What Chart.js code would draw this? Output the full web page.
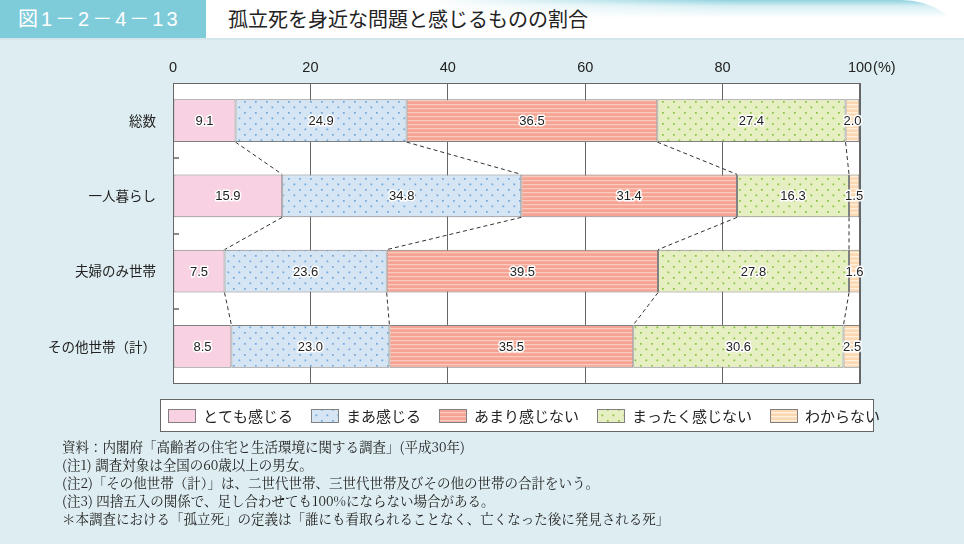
<!DOCTYPE html>
<html lang="ja">
<head>
<meta charset="utf-8">
<title>孤立死を身近な問題と感じるものの割合</title>
<script src="https://cdn.jsdelivr.net/npm/chart.js@4.4.1/dist/chart.umd.min.js"></script>
<style>
  body {
    margin: 0;
    width: 964px;
    height: 544px;
    overflow: hidden;
    position: relative;
    background: #deedf1;
    font-family: "Noto Sans CJK JP", sans-serif;
  }
  .head { position: absolute; left: 0; top: 0; width: 964px; height: 38px; background: #fff; }
  .head .num {
    position: absolute; left: 0; top: 0; width: 206px; height: 38px;
    background: #7ecbd9; color: #fff; box-sizing: border-box; padding-left: 18px;
    font: 20px/38px "Liberation Sans", "Noto Sans CJK JP", sans-serif; letter-spacing: 3px;
  }
  .head .band {
    position: absolute; left: 206px; top: 0; right: 6px; height: 38px;
    border-top-right-radius: 60px 40px;
    background:
      linear-gradient(to right, #fff 30%, rgba(255,255,255,0) 70%),
      linear-gradient(#8fd2de 0, #d6eff4 6px, #fff 18px);
  }
  .head .title { position: absolute; left: 228px; top: 0; font-size: 20px; line-height: 38px; color: #222; }
  .head-line { position: absolute; left: 0; top: 38px; width: 964px; height: 2px; background: #d2e6ec; }
  #chart { position: absolute; left: 0; top: 44px; }
  .notes {
    position: absolute; left: 62px; top: 437px;
    font-family: "Noto Serif CJK JP", "Noto Sans CJK JP", serif;
    font-size: 13.5px; line-height: 18px; color: #222; white-space: nowrap;
  }
</style>
</head>
<body>
<div class="head">
  <div class="band"></div>
  <div class="num">図1－2－4－13</div>
  <div class="title">孤立死を身近な問題と感じるものの割合</div>
</div>
<div class="head-line"></div>

<canvas id="chart" width="964" height="396"></canvas>

<div class="notes">
  <div>資料：内閣府「高齢者の住宅と生活環境に関する調査」(平成30年)</div>
  <div>(注1) 調査対象は全国の60歳以上の男女。</div>
  <div>(注2)「その他世帯（計）」は、二世代世帯、三世代世帯及びその他の世帯の合計をいう。</div>
  <div>(注3) 四捨五入の関係で、足し合わせても100%にならない場合がある。</div>
  <div>＊本調査における「孤立死」の定義は「誰にも看取られることなく、亡くなった後に発見される死」</div>
</div>

<script>
// data
const categories = ['総数', '一人暮らし', '夫婦のみ世帯', 'その他世帯（計）'];
const seriesNames = ['とても感じる', 'まあ感じる', 'あまり感じない', 'まったく感じない', 'わからない'];
const veryMuch = [9.1, 15.9, 7.5, 8.5];
const somewhat = [24.9, 34.8, 23.6, 23.0];
const notMuch = [36.5, 31.4, 39.5, 35.5];
const notAtAll = [27.4, 16.3, 27.8, 30.6];
const dontKnow = [2.0, 1.5, 1.6, 2.5];
const xTicks = [0, 20, 40, 60, 80, 100];
const xUnit = '(%)';

const numFont = '"Liberation Sans", "Noto Sans CJK JP", sans-serif';
const jpFont = '"Noto Sans CJK JP", sans-serif';

const canvas = document.getElementById('chart');
const ctx = canvas.getContext('2d');

// small tiles for the dotted / striped fills
function dots(bg, fg) {
  const c = document.createElement('canvas');
  c.width = 11; c.height = 11;
  const g = c.getContext('2d');
  g.fillStyle = bg; g.fillRect(0, 0, 11, 11);
  g.fillStyle = fg;
  g.fillRect(2, 2, 1.7, 1.7);
  g.fillRect(7.5, 7.5, 1.7, 1.7);
  return ctx.createPattern(c, 'repeat');
}
function stripes(bg, fg) {
  const c = document.createElement('canvas');
  c.width = 4; c.height = 4;
  const g = c.getContext('2d');
  g.fillStyle = bg; g.fillRect(0, 0, 4, 4);
  g.fillStyle = fg; g.fillRect(0, 0, 4, 1.3);
  return ctx.createPattern(c, 'repeat');
}

const fills = [
  '#f8d2e2',
  dots('#d5e5f4', '#6fa5da'),
  stripes('#f5a392', '#fbcabf'),
  dots('#e5efc2', '#86c23a'),
  stripes('#fcd8b2', '#fff0e0'),
];
const values = [veryMuch, somewhat, notMuch, notAtAll, dontKnow];

const datasets = seriesNames.map((name, k) => ({
  label: name,
  data: values[k],
  backgroundColor: fills[k],
  borderColor: '#808080',
  borderWidth: 1,
  borderSkipped: false,
  barPercentage: 0.571,
  categoryPercentage: 1.0,
}));

// white plot area, frame, inner ticks, dashed connectors, value labels, legend
const decorations = {
  id: 'decorations',
  beforeDraw(chart) {
    const { ctx, chartArea: a } = chart;
    ctx.save();
    ctx.fillStyle = '#fff';
    ctx.fillRect(a.left, a.top, a.width, a.height);
    ctx.restore();
  },
  afterDatasetsDraw(chart) {
    const { ctx, chartArea: a } = chart;
    const yScale = chart.scales.y;
    const metas = chart.data.datasets.map((d, k) => chart.getDatasetMeta(k));
    ctx.save();

    // frame
    ctx.strokeStyle = '#666';
    ctx.lineWidth = 1;
    ctx.strokeRect(a.left + 0.5, a.top + 0.5, a.width - 1, a.height - 1);

    // short ticks between categories, inside the plot
    ctx.lineWidth = 1.5;
    for (let i = 1; i < categories.length; i++) {
      const y = Math.round((yScale.getPixelForValue(i - 1) + yScale.getPixelForValue(i)) / 2);
      ctx.beginPath();
      ctx.moveTo(a.left, y);
      ctx.lineTo(a.left + 6, y);
      ctx.stroke();
    }

    // dashed lines joining the segment boundaries
    ctx.lineWidth = 1;
    ctx.strokeStyle = '#333';
    ctx.setLineDash([4, 3]);
    for (let i = 0; i < categories.length - 1; i++) {
      for (let k = 0; k < metas.length - 1; k++) {
        const top = metas[k].data[i];
        const bottom = metas[k].data[i + 1];
        ctx.beginPath();
        ctx.moveTo(top.x, top.y + top.height / 2);
        ctx.lineTo(bottom.x, bottom.y - bottom.height / 2);
        ctx.stroke();
      }
    }
    ctx.setLineDash([]);

    // value labels with a white halo
    ctx.font = '13px ' + numFont;
    ctx.textAlign = 'center';
    ctx.textBaseline = 'middle';
    ctx.lineJoin = 'round';
    metas.forEach((meta, k) => {
      meta.data.forEach((bar, i) => {
        const text = values[k][i].toFixed(1);
        const cx = (bar.x + bar.base) / 2;
        ctx.lineWidth = 3;
        ctx.strokeStyle = '#fff';
        ctx.strokeText(text, cx, bar.y + 1);
        ctx.fillStyle = '#222';
        ctx.fillText(text, cx, bar.y + 1);
      });
    });
    ctx.restore();
  },
  afterDraw(chart) {
    const { ctx } = chart;
    ctx.save();

    // unit after the 100 tick
    const xScale = chart.scales.x;
    const items = xScale.getLabelItems();
    const last = items[items.length - 1];
    if (last) {
      ctx.font = last.font.string;
      const w = ctx.measureText(String(last.label)).width;
      ctx.textAlign = 'left';
      ctx.textBaseline = last.options.textBaseline;
      ctx.fillStyle = '#222';
      ctx.fillText(xUnit, last.options.translation[0] + w / 2 + 1, last.options.translation[1] + last.textOffset);
    }

    // legend box
    ctx.fillStyle = '#fff';
    ctx.fillRect(160, 355, 713, 32);
    ctx.strokeStyle = '#666';
    ctx.lineWidth = 1;
    ctx.strokeRect(160.5, 355.5, 713, 32);

    ctx.font = '15px ' + jpFont;
    ctx.textAlign = 'left';
    ctx.textBaseline = 'middle';
    let x = 168;
    chart.data.datasets.forEach((d) => {
      ctx.fillStyle = d.backgroundColor;
      ctx.fillRect(x, 365, 28, 14);
      ctx.strokeStyle = '#808080';
      ctx.strokeRect(x + 0.5, 365.5, 27, 13);
      ctx.fillStyle = '#222';
      ctx.fillText(d.label, x + 35, 372);
      x += 35 + ctx.measureText(d.label).width + 18;
    });
    ctx.restore();
  },
};

new Chart(ctx, {
  type: 'bar',
  data: { labels: categories, datasets },
  options: {
    indexAxis: 'y',
    responsive: false,
    animation: false,
    layout: { padding: { left: 0, right: 104, top: 0, bottom: 56 } },
    plugins: {
      legend: { display: false },
      tooltip: { enabled: false },
    },
    scales: {
      x: {
        position: 'top',
        stacked: true,
        min: 0,
        max: 100,
        afterBuildTicks: (scale) => { scale.ticks = xTicks.map((v) => ({ value: v })); },
        afterFit: (scale) => { scale.height = 39; },
        grid: { color: '#666', lineWidth: 1, drawTicks: false },
        border: { display: false },
        ticks: { padding: 6, color: '#222', font: { family: numFont, size: 14.5 } },
      },
      y: {
        stacked: true,
        afterFit: (scale) => { scale.width = 173; },
        grid: { display: false },
        border: { display: false },
        ticks: { padding: 9, color: '#222', font: { family: jpFont, size: 13.5 } },
      },
    },
  },
  plugins: [decorations],
});
</script>
</body>
</html>
